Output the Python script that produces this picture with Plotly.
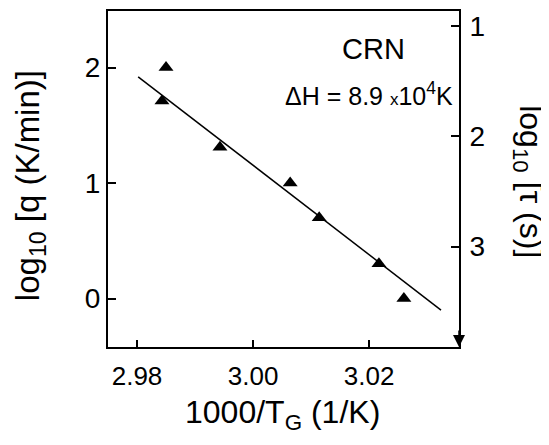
import plotly.graph_objects as go

# Data
x_pts = [2.9850, 2.9843, 2.9943, 3.0064, 3.0114, 3.0217, 3.0260]
y_pts = [2.00, 1.71, 1.31, 1.00, 0.70, 0.30, 0.00]
x_fit = [2.9802, 3.0324]
y_fit = [1.92, -0.10]
x_ticks = [2.98, 3.00, 3.02]
x_ticklabels = ["2.98", "3.00", "3.02"]
y_ticks = [0, 1, 2]
y2_ticks = [1, 2, 3]

FONT = "Liberation Sans, Arial, Helvetica, sans-serif"

fig = go.Figure()
fig.add_trace(go.Scatter(x=x_fit, y=y_fit, mode="lines",
                         line=dict(color="black", width=1.5), showlegend=False))
fig.add_trace(go.Scatter(x=x_pts, y=y_pts, mode="markers",
                         marker=dict(symbol="triangle-up", size=13, color="black"),
                         showlegend=False))
fig.add_trace(go.Scatter(x=[None], y=[None], yaxis="y2", showlegend=False))

fig.update_layout(
    width=541, height=437,
    margin=dict(l=100, r=90, t=1, b=98),
    paper_bgcolor="white", plot_bgcolor="white",
    font=dict(family=FONT, color="black"),
    xaxis=dict(range=[2.975, 3.0355], tickvals=x_ticks, ticktext=x_ticklabels,
               ticks="inside", ticklen=7, tickwidth=1.5, tickcolor="black",
               showline=True, linecolor="black", linewidth=2, mirror=True,
               showgrid=False, zeroline=False, tickfont=dict(size=26),
               ticklabelstandoff=5),
    yaxis=dict(range=[-0.42, 2.49], tickvals=y_ticks,
               ticks="inside", ticklen=8, tickwidth=1.5, tickcolor="black",
               showline=True, linecolor="black", linewidth=2,
               showgrid=False, zeroline=False, tickfont=dict(size=28)),
    yaxis2=dict(overlaying="y", side="right", range=[3.91, 0.865], tickvals=y2_ticks,
                ticks="inside", ticklen=8, tickwidth=1.5, tickcolor="black",
                showline=True, linecolor="black", linewidth=2,
                showgrid=False, zeroline=False, tickfont=dict(size=28),
                ticklabelstandoff=3),
)

anns = [
    dict(text="log<sub>10</sub> [q (K/min)]", x=-0.222, y=0.479, textangle=-90,
         font=dict(size=33)),
    dict(text="log<sub>10</sub> [τ (s)]", x=1.199, y=0.491, textangle=90,
         font=dict(size=32)),
    dict(text="1000/T<sub>G</sub> (1/K)", x=0.496, y=-0.2, font=dict(size=32)),
    dict(text="CRN", x=(373 - 108) / 351, y=(347 - 47) / 338, font=dict(size=29)),
    dict(text="ΔH = 8.9 <span style='font-size:17px'>x</span>10<sup>4</sup>K",
         x=(369 - 108) / 351, y=(347 - 92) / 338, font=dict(size=25)),
]
for a in anns:
    a.update(xref="paper", yref="paper", showarrow=False,
             xanchor="center", yanchor="middle")
    fig.add_annotation(**a)

fig.add_annotation(x=1, y=0, xref="paper", yref="paper", ax=0, ay=-18,
                   axref="pixel", ayref="pixel", showarrow=True, arrowhead=2,
                   arrowsize=1.6, arrowwidth=1.5, arrowcolor="black", text="")

fig.write_html("out.html")
